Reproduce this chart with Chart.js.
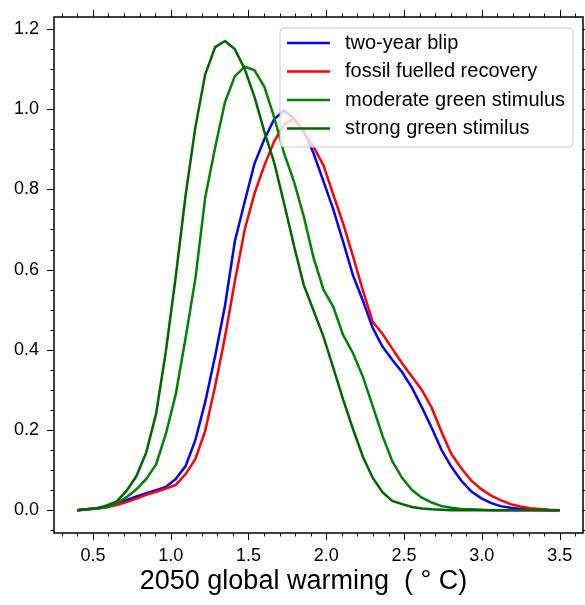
<!DOCTYPE html>
<html>
<head>
<meta charset="utf-8">
<script src="https://cdn.jsdelivr.net/npm/chart.js@4/dist/chart.umd.min.js"></script>
<style>
  html, body { margin: 0; padding: 0; background: #fff; }
  canvas { display: block; }
</style>
</head>
<body>
<canvas id="chart" width="585" height="605"></canvas>
<script>
// warming grid (deg C)
const warming = [0.400, 0.463, 0.527, 0.590, 0.653, 0.716, 0.780, 0.843, 0.906, 0.969,
                 1.033, 1.096, 1.159, 1.222, 1.286, 1.349, 1.412, 1.476, 1.539, 1.602,
                 1.665, 1.729, 1.792, 1.855, 1.918, 1.982, 2.045, 2.108, 2.171, 2.235,
                 2.298, 2.361, 2.424, 2.488, 2.551, 2.614, 2.678, 2.741, 2.804, 2.867,
                 2.931, 2.994, 3.057, 3.120, 3.184, 3.247, 3.310, 3.373, 3.437, 3.500];

const twoYearBlip = [0, 0.002, 0.004, 0.008, 0.016, 0.025, 0.034, 0.042, 0.050, 0.058,
                     0.078, 0.110, 0.175, 0.270, 0.385, 0.510, 0.670, 0.770, 0.865, 0.925,
                     0.975, 0.997, 0.977, 0.946, 0.890, 0.820, 0.750, 0.670, 0.586, 0.523,
                     0.455, 0.408, 0.375, 0.344, 0.305, 0.257, 0.205, 0.150, 0.108, 0.074,
                     0.047, 0.030, 0.018, 0.010, 0.006, 0.003, 0.002, 0.001, 0, 0];

const fossilFuelled = [0, 0.002, 0.004, 0.008, 0.013, 0.020, 0.029, 0.038, 0.046, 0.054,
                       0.063, 0.090, 0.128, 0.198, 0.310, 0.432, 0.570, 0.700, 0.790, 0.860,
                       0.920, 0.962, 0.977, 0.942, 0.906, 0.860, 0.787, 0.715, 0.634, 0.548,
                       0.470, 0.440, 0.403, 0.366, 0.333, 0.300, 0.255, 0.195, 0.140, 0.105,
                       0.074, 0.053, 0.037, 0.025, 0.015, 0.009, 0.005, 0.003, 0.001, 0];

const moderateGreen = [0, 0.002, 0.004, 0.008, 0.017, 0.032, 0.052, 0.078, 0.114, 0.190,
                       0.290, 0.430, 0.578, 0.780, 0.905, 1.018, 1.082, 1.106, 1.097, 1.056,
                       0.980, 0.890, 0.820, 0.733, 0.630, 0.550, 0.507, 0.437, 0.392, 0.333,
                       0.260, 0.186, 0.122, 0.080, 0.050, 0.031, 0.019, 0.010, 0.006, 0.003,
                       0.002, 0.001, 0, 0, 0, 0, 0, 0, 0, 0];

const strongGreen = [0, 0.002, 0.005, 0.012, 0.022, 0.048, 0.085, 0.144, 0.240, 0.396,
                     0.584, 0.786, 0.956, 1.087, 1.155, 1.170, 1.150, 1.100, 1.030, 0.944,
                     0.867, 0.765, 0.660, 0.562, 0.498, 0.433, 0.355, 0.276, 0.203, 0.134,
                     0.081, 0.045, 0.023, 0.015, 0.008, 0.004, 0.002, 0.001, 0, 0,
                     0, 0, 0, 0, 0, 0, 0, 0, 0, 0];

const seriesNames = ['two-year blip', 'fossil fuelled recovery', 'moderate green stimulus', 'strong green stimilus'];
const seriesColors = ['#0000ff', '#ff0000', '#008000', '#006400'];
const seriesValues = [twoYearBlip, fossilFuelled, moderateGreen, strongGreen];

const xTicks = [0.5, 1.0, 1.5, 2.0, 2.5, 3.0, 3.5];
const yTicks = [0.0, 0.2, 0.4, 0.6, 0.8, 1.0, 1.2];

const FONT = "'Liberation Sans', Arial, Helvetica, sans-serif";

// box, outward ticks on all four sides, legend
const framePlugin = {
    id: 'frame',
    afterDatasetsDraw(chart) {
        const ctx = chart.ctx;
        const a = chart.chartArea;
        const bx = a.right - 303, by = a.top + 11, bw = 293, bh = 119, r = 4;

        ctx.save();
        ctx.beginPath();
        ctx.moveTo(bx + r, by);
        ctx.lineTo(bx + bw - r, by);
        ctx.arcTo(bx + bw, by, bx + bw, by + r, r);
        ctx.lineTo(bx + bw, by + bh - r);
        ctx.arcTo(bx + bw, by + bh, bx + bw - r, by + bh, r);
        ctx.lineTo(bx + r, by + bh);
        ctx.arcTo(bx, by + bh, bx, by + bh - r, r);
        ctx.lineTo(bx, by + r);
        ctx.arcTo(bx, by, bx + r, by, r);
        ctx.closePath();
        ctx.fillStyle = 'rgba(255,255,255,0.8)';
        ctx.fill();
        ctx.strokeStyle = '#cccccc';
        ctx.lineWidth = 1;
        ctx.stroke();

        ctx.font = '20px ' + FONT;
        ctx.textBaseline = 'middle';
        ctx.textAlign = 'left';
        seriesNames.forEach(function (name, i) {
            const ly = by + 15 + i * 28.5;
            ctx.strokeStyle = seriesColors[i];
            ctx.lineWidth = 2.5;
            ctx.beginPath();
            ctx.moveTo(bx + 7, ly);
            ctx.lineTo(bx + 50, ly);
            ctx.stroke();
            ctx.fillStyle = '#000';
            ctx.fillText(name, bx + 65, ly);
        });
        ctx.restore();
    },
    afterDraw(chart) {
        const ctx = chart.ctx;
        const a = chart.chartArea;
        const xs = chart.scales.x, ys = chart.scales.y;

        ctx.save();
        ctx.strokeStyle = '#000';
        ctx.lineWidth = 1;
        ctx.beginPath();
        for (let k = 3; k <= 36; k++) {
            const len = (k % 5 === 0) ? 7 : 3.5;
            const px = Math.round(xs.getPixelForValue(k / 10)) + 0.5;
            ctx.moveTo(px, a.bottom); ctx.lineTo(px, a.bottom + len);
            ctx.moveTo(px, a.top); ctx.lineTo(px, a.top - len);
        }
        for (let k = -1; k <= 24; k++) {
            const len = (k % 4 === 0) ? 7 : 3.5;
            const py = Math.round(ys.getPixelForValue(k * 0.05)) + 0.5;
            ctx.moveTo(a.left, py); ctx.lineTo(a.left - len, py);
            ctx.moveTo(a.right, py); ctx.lineTo(a.right + len, py);
        }
        ctx.stroke();

        ctx.lineWidth = 1.5;
        ctx.strokeRect(a.left, a.top, a.right - a.left, a.bottom - a.top);
        ctx.restore();
    }
};

const datasets = seriesValues.map(function (values, i) {
    return {
        label: seriesNames[i],
        data: values.map(function (v, j) { return {x: warming[j], y: v}; }),
        borderColor: seriesColors[i],
        backgroundColor: seriesColors[i],
        borderWidth: 2.5,
        pointRadius: 0,
        tension: 0,
        fill: false,
        order: seriesValues.length - i
    };
});

new Chart(document.getElementById('chart'), {
    type: 'line',
    data: {datasets: datasets},
    options: {
        responsive: false,
        animation: false,
        devicePixelRatio: 1,
        layout: {padding: {top: 17, right: 2, left: 0, bottom: 0}},
        plugins: {
            legend: {display: false},
            tooltip: {enabled: false}
        },
        scales: {
            x: {
                type: 'linear',
                min: 0.25,
                max: 3.65,
                afterBuildTicks: function (s) { s.ticks = xTicks.map(function (v) { return {value: v}; }); },
                afterFit: function (s) { s.height = 72; s.paddingLeft = 0; s.paddingRight = 0; },
                grid: {display: false, drawTicks: false},
                border: {display: false},
                ticks: {
                    padding: 12,
                    color: '#000',
                    maxRotation: 0,
                    font: {family: FONT, size: 18},
                    callback: function (v) { return Number(v).toFixed(1); }
                },
                title: {
                    display: true,
                    text: '2050 global warming  ( \u00b0 C)\u00a0\u00a0\u00a0\u00a0',
                    color: '#000',
                    font: {family: FONT, size: 27},
                    padding: {top: 0, bottom: 7}
                }
            },
            y: {
                type: 'linear',
                min: -0.057,
                max: 1.23,
                afterBuildTicks: function (s) { s.ticks = yTicks.map(function (v) { return {value: v}; }); },
                afterFit: function (s) { s.width = 54; s.paddingTop = 0; s.paddingBottom = 0; },
                grid: {display: false, drawTicks: false},
                border: {display: false},
                ticks: {
                    padding: 15,
                    color: '#000',
                    font: {family: FONT, size: 18},
                    callback: function (v) { return Number(v).toFixed(1); }
                }
            }
        }
    },
    plugins: [framePlugin]
});
</script>
</body>
</html>
